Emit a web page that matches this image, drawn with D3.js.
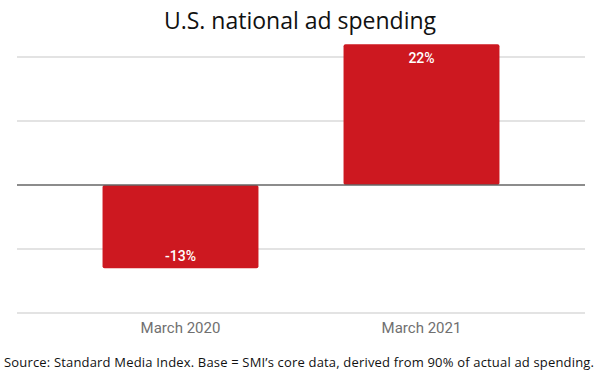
<!DOCTYPE html>
<html>
<head>
<meta charset="utf-8">
<script src="https://cdn.jsdelivr.net/npm/d3@7"></script>
<style>
  body { margin: 0; background: #fff; }
</style>
</head>
<body>
<script>
const categories = ["March 2020", "March 2021"];
const values = [-13, 22];
const gridTicks = [-20, -10, 0, 10, 20];
const title = "U.S. national ad spending";
const source = "Source: Standard Media Index. Base = SMI\u2019s core data, derived from 90% of actual ad spending.";

const width = 600, height = 375;

const svg = d3.select("body").append("svg")
    .attr("width", width)
    .attr("height", height);

const x = d3.scaleBand()
    .domain(categories)
    .range([60, 542])
    .paddingInner(0.353)
    .paddingOuter(0.1765);

const y = d3.scaleLinear()
    .domain([-20, 20])
    .range([313, 57]);

// gridlines
svg.append("g")
    .selectAll("line")
    .data(gridTicks.filter(d => d !== 0))
    .join("line")
    .attr("x1", 17).attr("x2", 585)
    .attr("y1", d => y(d)).attr("y2", d => y(d))
    .attr("stroke", "#dadada")
    .attr("stroke-width", 1.5);

// bars
svg.append("g")
    .selectAll("rect")
    .data(values)
    .join("rect")
    .attr("x", (d, i) => x(categories[i]))
    .attr("width", x.bandwidth())
    .attr("y", d => y(Math.max(0, d)))
    .attr("height", d => Math.abs(y(d) - y(0)))
    .attr("rx", 2)
    .attr("fill", "#cd1820");

// zero line
svg.append("line")
    .attr("x1", 17).attr("x2", 585)
    .attr("y1", y(0)).attr("y2", y(0))
    .attr("stroke", "#666")
    .attr("stroke-width", 1.5);

// value labels
svg.append("g")
    .selectAll("text")
    .data(values)
    .join("text")
    .attr("x", (d, i) => x(categories[i]) + x.bandwidth() / 2)
    .attr("y", d => d >= 0 ? y(d) + 19 : y(d) - 7)
    .attr("text-anchor", "middle")
    .attr("fill", "#fff")
    .style("font-family", "Roboto, sans-serif")
    .style("font-size", "14px")
    .style("font-weight", "500")
    .text(d => d + "%");

// category labels
svg.append("g")
    .selectAll("text")
    .data(categories)
    .join("text")
    .attr("x", d => x(d) + x.bandwidth() / 2)
    .attr("y", 333)
    .attr("text-anchor", "middle")
    .attr("fill", "#707070")
    .style("font-family", "Roboto, sans-serif")
    .style("font-size", "15px")
    .text(d => d);

svg.append("text")
    .attr("x", 300)
    .attr("y", 29)
    .attr("text-anchor", "middle")
    .attr("fill", "#111")
    .style("font-family", "'Open Sans', sans-serif")
    .style("font-size", "23px")
    .text(title);

svg.append("text")
    .attr("x", 4)
    .attr("y", 367)
    .attr("fill", "#111")
    .style("font-family", "'Open Sans', sans-serif")
    .style("font-size", "13px")
    .attr("textLength", 590)
    .text(source);
</script>
</body>
</html>
